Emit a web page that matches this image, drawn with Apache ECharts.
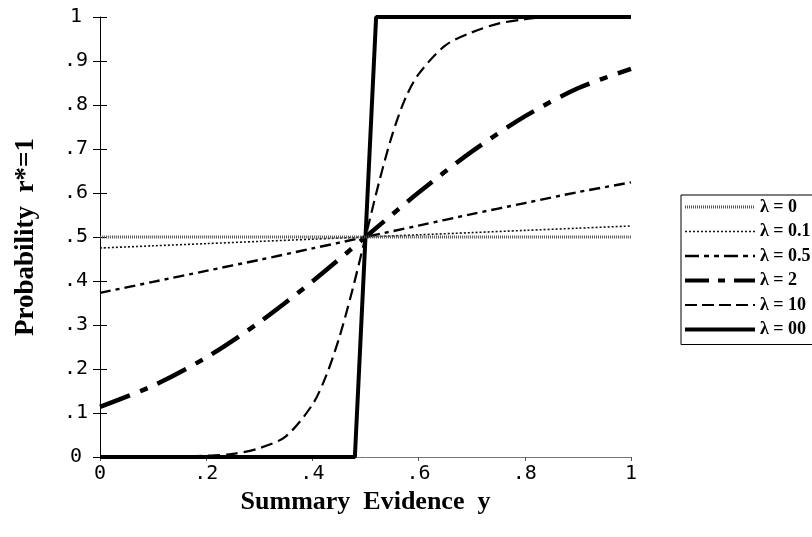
<!DOCTYPE html>
<html>
<head>
<meta charset="utf-8">
<script src="https://cdn.jsdelivr.net/npm/echarts@6/dist/echarts.min.js"></script>
<style>
html,body{margin:0;padding:0;background:#fff;}
#chart{width:812px;height:537px;}
</style>
</head>
<body>
<div id="chart"></div>
<script>
// ---- data ----
const xTickLabels = ['0', '.2', '.4', '.6', '.8', '1'];
const yTickLabels = ['0', '.1', '.2', '.3', '.4', '.5', '.6', '.7', '.8', '.9', '1'];
const seriesNames = ['λ = 0', 'λ = 0.1', 'λ = 0.5', 'λ = 2', 'λ = 10', 'λ = 00'];

const xGrid = [0, 0.1, 0.2, 0.3, 0.4, 0.5, 0.6, 0.7, 0.8, 0.9, 1];
const lam0   = [0.5, 0.5, 0.5, 0.5, 0.5, 0.5, 0.5, 0.5, 0.5, 0.5, 0.5];
const lam01  = [0.475, 0.48, 0.485, 0.49, 0.495, 0.5, 0.505, 0.51, 0.515, 0.52, 0.525];
const lam05  = [0.373, 0.398, 0.423, 0.448, 0.474, 0.5, 0.526, 0.552, 0.577, 0.602, 0.624];
const lam2   = [0.114, 0.162, 0.226, 0.306, 0.399, 0.5, 0.601, 0.694, 0.774, 0.838, 0.882];

const lam10X = [0, 0.1, 0.2, 0.25, 0.3, 0.35, 0.4, 0.425, 0.45, 0.475, 0.5, 0.525, 0.55, 0.575, 0.6, 0.65, 0.7, 0.75, 0.8, 0.85, 0.9, 1];
const lam10  = [0, 0, 0.003, 0.007, 0.02, 0.047, 0.119, 0.182, 0.269, 0.378, 0.5, 0.622, 0.731, 0.815, 0.87, 0.935, 0.965, 0.985, 0.995, 1, 1, 1];

const lamInfX = [0, 0.48, 0.52, 1];
const lamInf  = [0, 0, 1, 1];

function pairs(xs, ys) { return xs.map((x, i) => [x, ys[i]]); }

const styles = [
  { color: '#555', width: 3, type: [1, 1] },
  { color: '#111', width: 1.6, type: [2, 2] },
  { color: '#000', width: 2.4, type: [11, 5, 4, 5] },
  { color: '#000', width: 4.5, type: [32, 11, 8, 11] },
  { color: '#000', width: 2.2, type: [12, 6] },
  { color: '#000', width: 4, type: 'solid' }
];
const legendStyles = [
  { color: '#555', width: 3, type: [1, 1] },
  { color: '#111', width: 1.6, type: [2, 2] },
  { color: '#000', width: 2.6, type: [14, 5, 5, 5, 5, 5] },
  { color: '#000', width: 4, type: [24, 9, 7, 9] },
  { color: '#000', width: 2.2, type: [12, 5] },
  { color: '#000', width: 4, type: 'solid' }
];
const datas = [
  pairs(xGrid, lam0), pairs(xGrid, lam01), pairs(xGrid, lam05),
  pairs(xGrid, lam2), pairs(lam10X, lam10), pairs(lamInfX, lamInf)
];

const chart = echarts.init(document.getElementById('chart'), null, { renderer: 'canvas' });
const tickFont = { fontFamily: 'DejaVu Sans Mono', fontSize: 20, color: '#000' };
const gridRect = { left: 100, right: 181, top: 17, bottom: 80, containLabel: false };

chart.setOption({
  animation: false,
  backgroundColor: '#fff',
  grid: [Object.assign({}, gridRect), Object.assign({}, gridRect)],
  legend: {
    orient: 'vertical',
    left: 681, top: 195,
    padding: [3, 40, 6, 2],
    itemGap: 6.5,
    itemWidth: 70, itemHeight: 14,
    borderColor: '#000', borderWidth: 1,
    itemStyle: { opacity: 0, borderWidth: 0 },
    textStyle: { fontFamily: 'Liberation Serif', fontWeight: 'bold', fontSize: 18, color: '#000' },
    data: seriesNames.map((n, i) => ({ name: n, lineStyle: legendStyles[i], itemStyle: { opacity: 0, borderWidth: 0 } }))
  },
  xAxis: [{
    gridIndex: 0,
    type: 'value', min: 0, max: 1, interval: 0.2,
    name: 'Summary  Evidence  y', nameLocation: 'middle', nameGap: 25,
    nameTextStyle: { fontFamily: 'Liberation Serif', fontWeight: 'bold', fontSize: 26, color: '#000' },
    axisLine: { show: true, onZero: false, lineStyle: { color: '#777', width: 1 } },
    axisTick: { show: true, length: 4, lineStyle: { color: '#555' } },
    splitLine: { show: false },
    axisLabel: Object.assign({ margin: 7, formatter: v => xTickLabels[Math.round(v / 0.2)] }, tickFont)
  }, {
    gridIndex: 1, type: 'value', min: 0, max: 1, show: false
  }],
  yAxis: [{
    gridIndex: 0,
    type: 'value', min: 0, max: 1, interval: 0.1,
    name: 'Probability  r*=1', nameLocation: 'middle', nameGap: 60, nameRotate: 90,
    nameTextStyle: { fontFamily: 'Liberation Serif', fontWeight: 'bold', fontSize: 27, color: '#000' },
    axisLine: { show: true, onZero: false, lineStyle: { color: '#000', width: 1 } },
    axisTick: { show: true, length: 7, lineStyle: { color: '#000' } },
    splitLine: { show: false },
    axisLabel: Object.assign({ margin: 24, align: 'center', formatter: v => yTickLabels[Math.round(v * 10)] }, tickFont)
  }, {
    // same y scale on an overlapping grid: its ticks point into the plot, so ticks cross the axis
    gridIndex: 1,
    type: 'value', min: 0, max: 1, interval: 0.1, position: 'left',
    axisLine: { show: false },
    axisTick: { show: true, inside: true, length: 7, lineStyle: { color: '#000' } },
    splitLine: { show: false },
    axisLabel: { show: false }
  }],
  series: seriesNames.map((n, i) => ({
    name: n, type: 'line', data: datas[i], xAxisIndex: 0, yAxisIndex: 0,
    showSymbol: false, symbol: 'none', clip: false,
    smooth: (i === 5 ? false : 0.3),
    lineStyle: styles[i], itemStyle: { color: styles[i].color },
    z: 10 - i
  }))
});
</script>
</body>
</html>
